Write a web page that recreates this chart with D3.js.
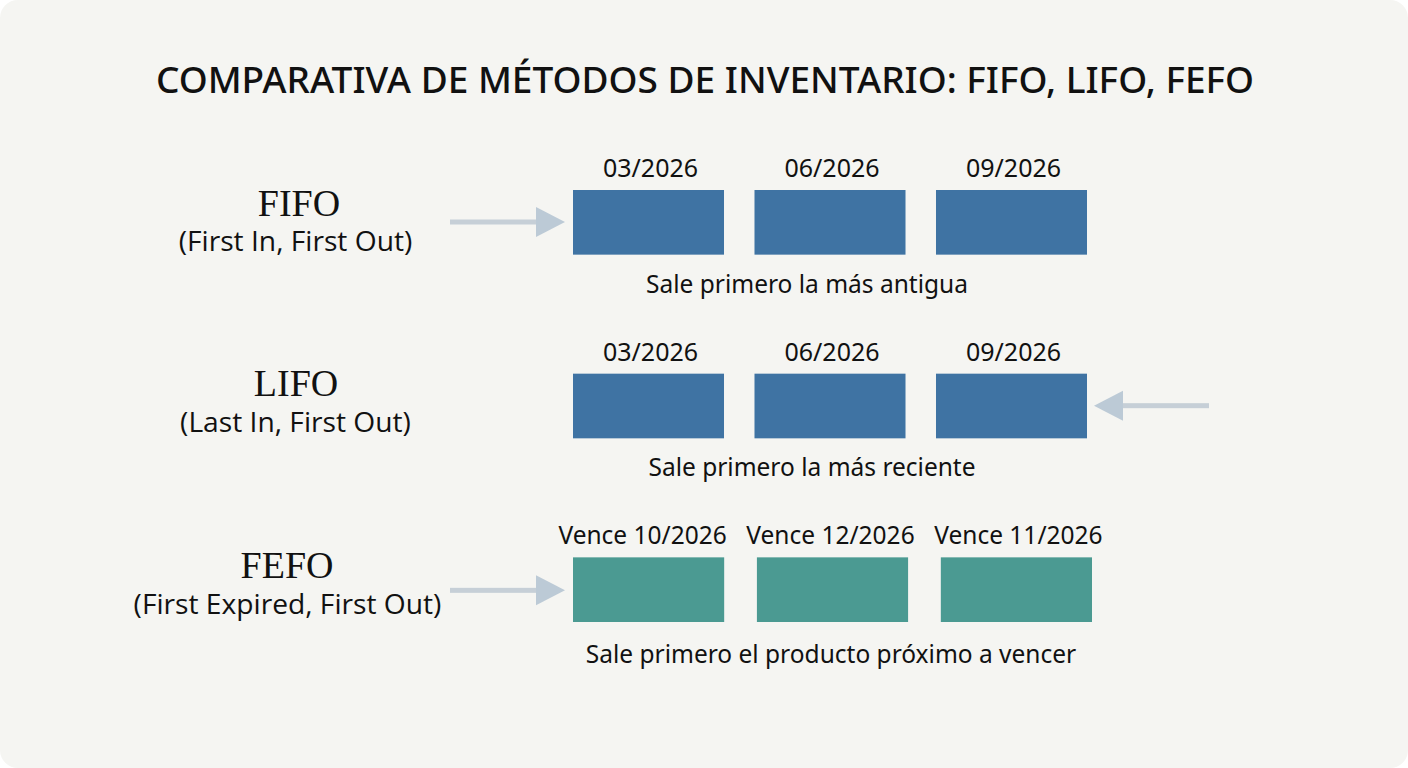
<!DOCTYPE html>
<html>
<head>
<meta charset="utf-8">
<script src="https://cdn.jsdelivr.net/npm/d3@7"></script>
<style>
  html, body { margin: 0; padding: 0; background: #fff; }
  svg { display: block; }
  text { fill: #111; text-anchor: middle; }
  .title { font: 500 37px "Noto Sans", sans-serif; }
  .method { font: 38px "Liberation Serif", serif; }
  .sub { font: 28.2px "Open Sans", sans-serif; font-weight: 400; }
  .date { font: 25px "Noto Sans", sans-serif; }
  .note { font: 24.5px "Noto Sans", sans-serif; }
</style>
</head>
<body>
<svg id="chart" width="1408" height="768"></svg>
<script>
const titleText = "COMPARATIVA DE MÉTODOS DE INVENTARIO: FIFO, LIFO, FEFO";
const methods = ["FIFO", "LIFO", "FEFO"];
const subtitles = ["(First In, First Out)", "(Last In, First Out)", "(First Expired, First Out)"];
const batchesFifo = ["03/2026", "06/2026", "09/2026"];
const batchesLifo = ["03/2026", "06/2026", "09/2026"];
const batchesFefo = ["Vence 10/2026", "Vence 12/2026", "Vence 11/2026"];
const notes = ["Sale primero la más antigua", "Sale primero la más reciente", "Sale primero el producto próximo a vencer"];
const arrowSides = ["left", "right", "left"];

const svg = d3.select("#chart");

svg.append("rect")
    .attr("width", 1408).attr("height", 768).attr("rx", 18)
    .attr("fill", "#f5f5f2");

svg.append("text")
    .attr("class", "title")
    .attr("x", 705).attr("y", 93)
    .text(titleText);

const y = d3.scaleBand().domain(methods).range([190, 622]).paddingInner(0.648);
const xStd = d3.scaleBand().range([573, 1087]).paddingInner(0.168);
const xFefo = d3.scaleBand().range([573, 1092]).paddingInner(0.178);

// per row tweaks for the label block, the three rows are not quite regular
const rows = [
    { batches: batchesFifo, x: xStd, color: "#3f73a3", labelX: 295.5, methodX: 299, methodY: 216, subY: 251, noteX: 807, noteY: 293, dateY: 177, dateDx: [2, 2, 2], dateSize: 25 },
    { batches: batchesLifo, x: xStd, color: "#3f73a3", labelX: 295.5, methodX: 296, methodY: 396, subY: 432, noteX: 812, noteY: 476, dateY: 361, dateDx: [2, 2, 2], dateSize: 25 },
    { batches: batchesFefo, x: xFefo, color: "#4b9a92", labelX: 287.5, methodX: 287, methodY: 578, subY: 614, noteX: 831, noteY: 663, dateY: 544, dateDx: [-6, -2, 2], dateSize: 24.5 }
];

const arrow = d3.line();

function drawArrow(g, side, cy) {
    // shaft and head share the row's vertical centre, shaft stops under the head
    const tip = side === "left" ? 565 : 1094,
        dir = side === "left" ? -1 : 1,
        neck = tip + dir * 29,
        tail = side === "left" ? 450 : 1209;
    g.append("rect")
        .attr("x", Math.min(neck, tail)).attr("y", cy - 2.5)
        .attr("width", Math.abs(tail - neck)).attr("height", 5)
        .attr("fill", "#c6cfd7");
    g.append("path")
        .attr("d", arrow([[tip, cy], [neck, cy - 15], [neck, cy + 15]]) + "Z")
        .attr("fill", "#bccad6");
}

methods.forEach((m, i) => {
    const row = rows[i];
    const yTop = y(m), h = y.bandwidth();
    const g = svg.append("g");
    const x = row.x.copy().domain(row.batches.map((d, j) => j));

    g.append("text").attr("class", "method")
        .attr("x", row.methodX).attr("y", row.methodY)
        .text(m);
    g.append("text").attr("class", "sub")
        .attr("x", row.labelX).attr("y", row.subY)
        .text(subtitles[i]);

    g.selectAll("rect.batch")
        .data(row.batches)
        .join("rect")
        .attr("class", "batch")
        .attr("x", (d, j) => x(j))
        .attr("y", yTop)
        .attr("width", x.bandwidth())
        .attr("height", h)
        .attr("fill", row.color);

    g.selectAll("text.date")
        .data(row.batches)
        .join("text")
        .attr("class", "date")
        .attr("x", (d, j) => x(j) + x.bandwidth() / 2 + row.dateDx[j])
        .attr("y", row.dateY)
        .style("font-size", row.dateSize + "px")
        .text(d => d);

    g.append("text").attr("class", "note")
        .attr("x", row.noteX)
        .attr("y", row.noteY)
        .text(notes[i]);

    drawArrow(g, arrowSides[i], yTop + (i === 2 ? 33 : 32));
});
</script>
</body>
</html>
